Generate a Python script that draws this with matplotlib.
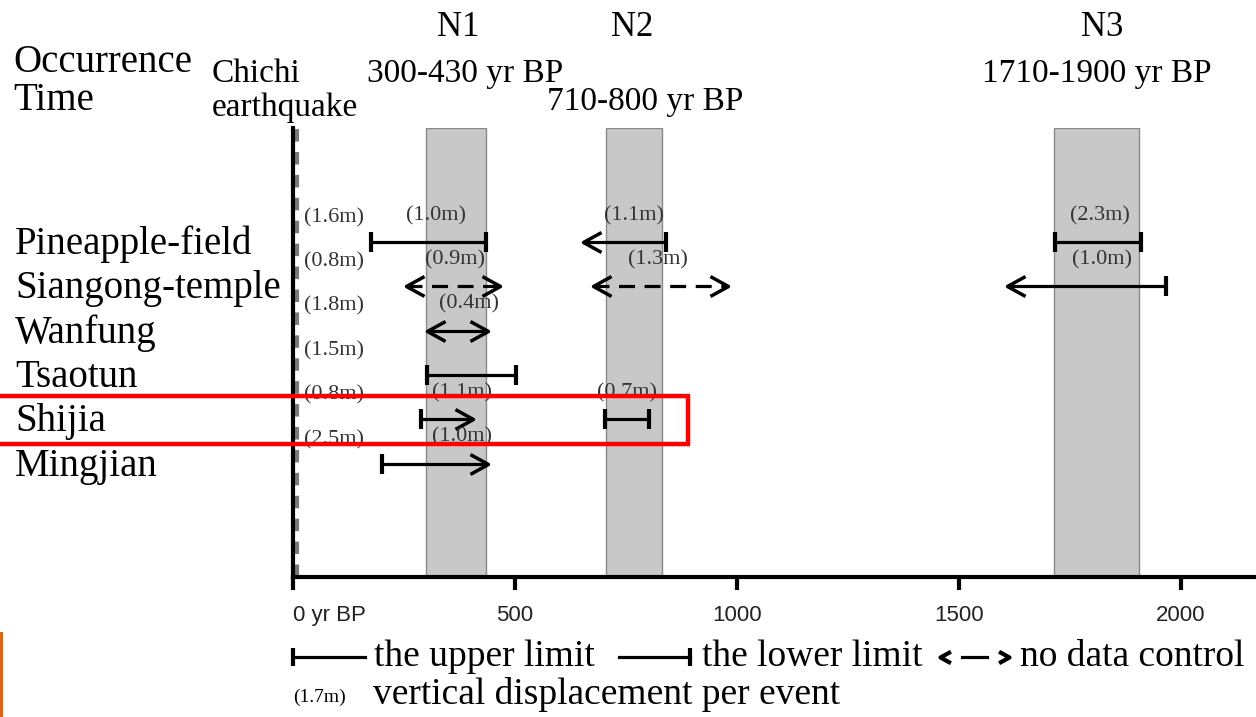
"""
Paleo-earthquake events along the Chelungpu fault sites
Occurrence time (yr BP) vs. site, with Chichi earthquake and events N1-N3
"""
import matplotlib
matplotlib.use("Agg")
import matplotlib.pyplot as plt
from matplotlib.path import Path
from matplotlib.markers import MarkerStyle
from matplotlib.lines import Line2D
from matplotlib.patches import Rectangle
import matplotlib.transforms as mtransforms

SERIF = ["Liberation Serif", "DejaVu Serif"]
NARROW = ["Liberation Sans Narrow", "Liberation Sans", "DejaVu Sans"]
W, H = 1256, 717

# ---------------------------------------------------------------
# data
# ---------------------------------------------------------------
sites = ["Pineapple-field", "Siangong-temple", "Wanfung", "Tsaotun", "Shijia", "Mingjian"]
chichi_disp = ["(1.6m)", "(0.8m)", "(1.8m)", "(1.5m)", "(0.8m)", "(2.5m)"]

event_names = ["N1", "N2", "N3"]
event_ages = ["300-430 yr BP", "710-800 yr BP", "1710-1900 yr BP"]
band_start = [300, 705, 1715]
band_end = [435, 830, 1905]

# one entry per bar (yr BP)
seg_site = [0, 0, 0, 1, 1, 1, 2, 3, 4, 4, 5]
seg_from = [176, 653, 1716, 254, 676, 1608, 302, 302, 288, 703, 200]
seg_to = [435, 840, 1910, 466, 980, 1966, 439, 502, 405, 802, 439]
seg_left = ["cap", "arrow", "cap", "arrow", "arrow", "arrow", "arrow", "cap", "cap", "cap", "cap"]
seg_right = ["cap", "cap", "cap", "arrow", "arrow", "cap", "arrow", "cap", "arrow", "cap", "arrow"]
seg_dashed = [False, False, False, True, True, False, False, False, False, False, False]
seg_disp = ["(1.0m)", "(1.1m)", "(2.3m)", "(0.9m)", "(1.3m)", "(1.0m)", "(0.4m)", "", "(1.1m)", "(0.7m)", "(1.0m)"]
seg_disp_x = [322, 768, 1818, 365, 822, 1823, 396, 0, 381, 752, 381]

xticks = [0, 500, 1000, 1500, 2000]
xtick_labels = ["0 yr BP", "500", "1000", "1500", "2000"]

# open chevrons for arrow heads (tip at origin)
CHEV_L = MarkerStyle(Path([(1, 0.55), (0, 0), (1, -0.55)]))
CHEV_R = MarkerStyle(Path([(-1, 0.55), (0, 0), (-1, -0.55)]))

fig = plt.figure(figsize=(W / 100, H / 100), dpi=100)
ax = fig.add_axes([293 / W, (H - 577) / H, (W - 293) / W, (577 - 128) / H])
ax.set_xlim(0, 2169)
ax.set_ylim(7.55, -2.57)

for s in ["top", "right"]:
    ax.spines[s].set_visible(False)
for s in ["left", "bottom"]:
    ax.spines[s].set_linewidth(3)
ax.set_yticks([])
ax.set_xticks(xticks)
ax.set_xticklabels(xtick_labels, family=NARROW, fontsize=16, color="#222222")
ax.get_xticklabels()[0].set_ha("left")
ax.tick_params(axis="x", direction="out", length=9, width=3, pad=11)

# event bands
for a, b in zip(band_start, band_end):
    ax.axvspan(a, b, facecolor="#c8c8c8", edgecolor="#8a8a8a", lw=1, zorder=0)

# Chichi earthquake
ax.axvline(9, color="#7a7a7a", lw=3, linestyle=(0, (3, 2.5)), zorder=1)

# bars
for site, x0, x1, lft, rgt, dash in zip(seg_site, seg_from, seg_to, seg_left, seg_right, seg_dashed):
    ax.plot([x0, x1], [site, site], color="black", lw=2.3,
            linestyle=(0, (5, 3)) if dash else "-", zorder=3, solid_capstyle="butt")
    for x, kind, chev in [(x0, lft, CHEV_L), (x1, rgt, CHEV_R)]:
        if kind == "cap":
            ax.plot([x], [site], marker="|", ms=14, mew=3, color="black", zorder=4)
        else:
            ax.plot([x], [site], marker=chev, ms=26, mew=2.5, mfc="none", mec="black", zorder=4)

for site, lab, x in zip(seg_site, seg_disp, seg_disp_x):
    if lab:
        ax.text(x, site - 0.6, lab, ha="center", va="center", family=SERIF,
                fontsize=16, color="#333333", zorder=5)

for i, lab in enumerate(chichi_disp):
    ax.text(25, i - 0.55, lab, ha="left", va="center", family=SERIF,
            fontsize=16, color="#333333", zorder=5)

# site names
trans = mtransforms.blended_transform_factory(fig.transFigure, ax.transData)
for i, name in enumerate(sites):
    ax.text(15 / W, i + 0.05, name, transform=trans, ha="left", va="center",
            family=SERIF, fontsize=28, clip_on=False)

# header texts
def ftext(x, y, s, **kw):
    fig.text(x / W, 1 - y / H, s, family=SERIF, va="center", **kw)

ftext(13, 62, "Occurrence", fontsize=28)
ftext(13, 100, "Time", fontsize=28)
ftext(212, 74, "Chichi", fontsize=24)
ftext(212, 108, "earthquake", fontsize=24)
ftext(458, 27, event_names[0], fontsize=25, ha="center")
ftext(632, 27, event_names[1], fontsize=25, ha="center")
ftext(1102, 27, event_names[2], fontsize=25, ha="center")
ftext(465, 74, event_ages[0], fontsize=24, ha="center")
ftext(645, 102, event_ages[1], fontsize=24, ha="center")
ftext(1097, 74, event_ages[2], fontsize=24, ha="center")

# legend
def fline(xs, ys, **kw):
    fig.add_artist(Line2D([x / W for x in xs], [1 - y / H for y in ys],
                          transform=fig.transFigure, color="black", **kw))

fline([293, 365], [657, 657], lw=2.3)
fline([293], [657], marker="|", ms=13, mew=3)
ftext(374, 657, "the upper limit", fontsize=27)
fline([619, 690], [657, 657], lw=2.3)
fline([690], [657], marker="|", ms=13, mew=3)
ftext(702, 657, "the lower limit", fontsize=27)
fline([962, 987], [657, 657], lw=2.3)
fline([940], [657], marker=CHEV_L, ms=15, mew=3, mfc="none")
fline([1009], [657], marker=CHEV_R, ms=15, mew=3, mfc="none")
ftext(1020, 657, "no data control", fontsize=27)
ftext(293, 697, "(1.7m)", fontsize=14)
ftext(373, 695, "vertical displacement per event", fontsize=27)

# highlight box around Shijia
fig.add_artist(Rectangle((-10 / W, 1 - 444 / H), 698 / W, 48 / H, transform=fig.transFigure,
                         fill=False, edgecolor="#ff0000", lw=3.2))
fig.add_artist(Rectangle((0, 0), 3 / W, 85 / H, transform=fig.transFigure,
                         facecolor="#d9661c", edgecolor="none"))

plt.savefig("out.png", dpi=100)
plt.close()
